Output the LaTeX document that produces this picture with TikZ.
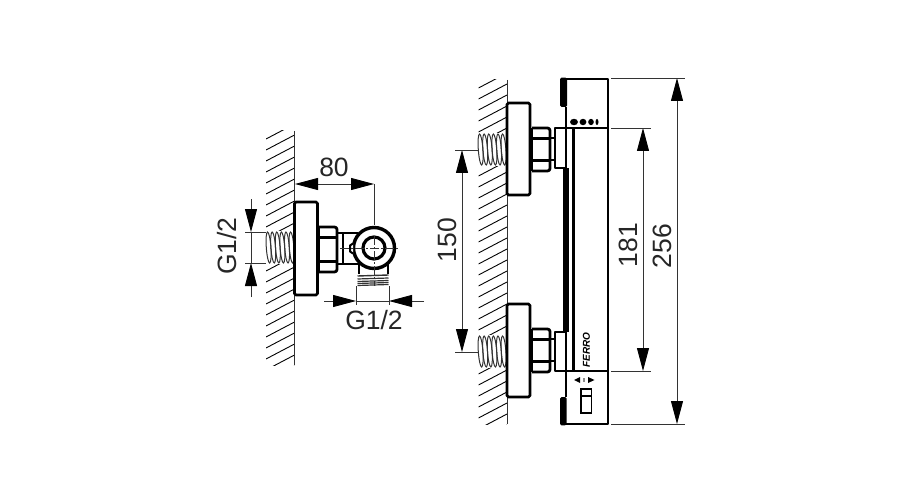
\documentclass[tikz,border=0pt]{standalone}
\usepackage{fontspec}
\setmainfont{Liberation Sans}
\usetikzlibrary{arrows.meta}
\definecolor{dimgray}{HTML}{333333}
\tikzset{
  x=1pt,y=-1pt,
  heavy/.style={line width=2.8pt,line join=round,draw=black},
  medium/.style={line width=2pt,line join=round,draw=black},
  hatchline/.style={line width=0.9pt,draw=black},
  dimline/.style={line width=0.9pt,draw=dimgray},
  extline/.style={line width=0.8pt,draw=dimgray},
  tipped/.style={dimline,{Triangle[length=23pt,width=12pt,color=black]}-{Triangle[length=23pt,width=12pt,color=black]}},
  tipend/.style={dimline,-{Triangle[length=23pt,width=12pt,color=black]}},
  dimtext/.style={font=\fontsize{26.5}{26.5}\selectfont,text=black!85,inner sep=0pt},
  threadline/.style={line width=1pt,draw=black!80},
  centerdash/.style={line width=0.7pt,draw=dimgray,dash pattern=on 9pt off 2pt on 2pt off 2pt},
}
% #1 x of wall, #2 top, #3 bottom
\newcommand{\wallhatch}[3]{
  \begin{scope}
    \clip (#1-28.5,#2) rectangle (#1,#3);
    \foreach \k in {0,1,...,32}{
      \draw[hatchline] (#1-28.5,#2+8+\k*11) -- (#1,#2-7+\k*11);
    }
  \end{scope}
  \draw[line width=1pt,draw=dimgray] (#1,#2) -- (#1,#3);
}
% threaded stub: #1 left x, #2 top y
\newcommand{\wallthread}[2]{
  \fill[white] (#1-1,#2-1) rectangle (#1+28,#2+32);
  \foreach \k in {0,1,...,5}{
    \draw[threadline,rotate around={4:(#1+2.6+\k*4.6,#2+15.5)}] (#1+2.6+\k*4.6,#2+15.5) ellipse (2.3 and 15.5);
  }
}
% flange: #1 left x, #2 top, #3 bottom
\newcommand{\flangebox}[3]{
  \draw[heavy,fill=white,rounded corners=1.5pt] (#1,#2) -- (#1+23,#2) -- (#1+23,#3) -- (#1,#3) -- cycle;
}
% nut: #1 left, #2 top, #3 height
\newcommand{\nutbox}[3]{
  \draw[heavy,fill=white,rounded corners=2.5pt] (#1,#2) -- (#1+18,#2) -- (#1+18,#2+#3) -- (#1,#2+#3);
  \draw[heavy] (#1,#2) -- (#1,#2+#3);
  \draw[heavy] (#1,#2+10.5) -- (#1+18,#2+10.5);
  \draw[heavy] (#1,#2+#3-10.5) -- (#1+18,#2+#3-10.5);
}
\begin{document}
\begin{tikzpicture}
\useasboundingbox (0,0) rectangle (900,500);
\fill[white] (0,0) rectangle (900,500);

% ---------- left view ----------
\wallhatch{294.5}{131}{365}
\wallthread{266}{232}
\flangebox{294.5}{202}{295}
\nutbox{319}{227}{45}
% pipe to elbow
\draw[heavy] (337,233) -- (358,233);
\draw[heavy] (337,264) -- (358,264);
\draw[heavy] (343,233) -- (343,264);
% lower outlet thread
\foreach \yy/\tt in {276/1.4,279/1.2,281.5/1.2,283.5/1.2,285.5/1.2}{
  \draw[draw=black!80,line width=\tt pt] (357.5,\yy) -- (388.5,\yy-1);
}
\draw[heavy] (359,262) -- (359,274);
\draw[heavy] (388,262) -- (388,274);
% elbow body
\coordinate (elbow) at (374,248);
\draw[line width=3.4pt,fill=white] (elbow) circle (20.5);
\draw[line width=3.2pt,fill=white] (elbow) circle (11);
\draw[medium,fill=white] (353,243.5) -- (350,245.5) -- (350,251.5) -- (353,253.5);
\draw[centerdash] (340,248) -- (398,248);
\draw[centerdash] (374,236) -- (374,286);

% dim 80
\coordinate (d80a) at (295,184);
\coordinate (d80b) at (374,184);
\draw[tipped] (d80a) -- (d80b);
\draw[extline] (d80b) -- (374,225);
\node[dimtext] (t80) at (334,167) {80};

% dim G1/2 vertical
\coordinate (gva) at (251,232);
\coordinate (gvb) at (251,263);
\coordinate (gvatop) at (251,199);
\coordinate (gvbbot) at (251,297);
\draw[dimline] (gva) -- (gvb);
\draw[tipend] (gvatop) -- (gva);
\draw[tipend] (gvbbot) -- (gvb);
\draw[extline] (245,232) -- (266,232);
\draw[extline] (245,263) -- (266,263);
\node[dimtext,rotate=90] (tgv) at (227,246) {G1/2};

% dim G1/2 horizontal
\coordinate (gha) at (356,301);
\coordinate (ghb) at (389,301);
\coordinate (ghaout) at (324,301);
\coordinate (ghbout) at (424,301);
\draw[dimline] (gha) -- (ghb);
\draw[tipend] (ghaout) -- (gha);
\draw[tipend] (ghbout) -- (ghb);
\draw[extline] (356,286) -- (356,305);
\draw[extline] (389,286) -- (389,305);
\node[dimtext] (tgh) at (374,320) {G1/2};

% ---------- right view ----------
\wallhatch{507}{80}{424}
\wallthread{478}{134}
\wallthread{478}{336}
\flangebox{507}{103}{195}
\flangebox{507}{304}{397}
\nutbox{532}{128}{43}
\nutbox{532}{329}{43}
\draw[medium] (550,138) -- (555,138);
\draw[medium] (550,160) -- (555,160);
\draw[medium] (550,339) -- (555,339);
\draw[medium] (550,361) -- (555,361);

% couplers
\draw[heavy,fill=white] (555,128) rectangle (566,168);
\draw[heavy,fill=white] (555,332) rectangle (566,371);

% body
\draw[heavy] (561,79) -- (608,79) -- (608,424) -- (561,424);
\fill[rounded corners=1.5pt] (560,77.6) rectangle (567,107);
\fill[rounded corners=1.5pt] (560,397) rectangle (566.5,425.4);
\draw[medium] (565.5,107) -- (565.5,128);
\draw[medium] (565.5,371) -- (565.5,397);
\draw[heavy] (555,128) -- (608,128);
\draw[heavy] (555,371) -- (608,371);
\fill (563.3,168) rectangle (568.8,332);
\draw[heavy] (573.3,128) -- (573.3,371);

% display dots
\fill (574,122) ellipse (4 and 3.2);
\fill (583,122) ellipse (3.4 and 3.2);
\fill (591,122) ellipse (2.8 and 3.2);
\fill (597,122) ellipse (1.5 and 3);

% brand
\node[rotate=90,font=\fontsize{10}{10}\selectfont\bfseries\itshape,inner sep=0pt] (brand) at (586.5,350) {FERRO};

% selector
\fill (580,377) -- (574,380) -- (580,383) -- cycle;
\fill (588,377) -- (594.5,380) -- (588,383) -- cycle;
\draw[line width=1.8pt] (581,389) rectangle (591.5,413);
\draw[line width=1.4pt] (581,396) -- (591.5,396);
\draw[line width=1.4pt,draw=black!45] (584,378) -- (584,382);

% dim 150
\coordinate (d150a) at (462,150);
\coordinate (d150b) at (462,352);
\draw[tipped] (d150a) -- (d150b);
\draw[extline] (455,150) -- (478,150);
\draw[extline] (455,352) -- (478,352);
\node[dimtext,rotate=90] (t150) at (447,240) {150};

% dim 181
\coordinate (d181a) at (643,128);
\coordinate (d181b) at (643,371);
\draw[tipped] (d181a) -- (d181b);
\draw[extline] (611,128) -- (651,128);
\draw[extline] (611,371) -- (651,371);
\node[dimtext,rotate=90] (t181) at (628,245) {181};

% dim 256
\coordinate (d256a) at (677,78);
\coordinate (d256b) at (677,424);
\draw[tipped] (d256a) -- (d256b);
\draw[extline] (611,78) -- (685,78);
\draw[extline] (611,424) -- (685,424);
\node[dimtext,rotate=90] (t256) at (662,246) {256};
\end{tikzpicture}
\end{document}
